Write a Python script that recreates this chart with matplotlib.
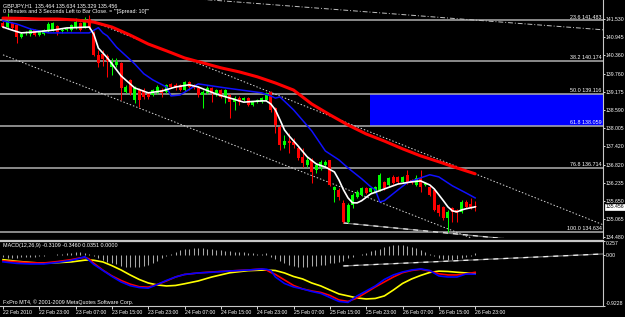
import matplotlib.pyplot as plt
from matplotlib.patches import Rectangle

# GBPJPY H1 candles (bar 0 = 22 Feb 15:00)
opens = [
    141.40, 141.27, 141.40, 141.34, 140.95, 141.08, 141.04, 141.17, 141.01, 141.04,
    141.14, 141.17, 141.30, 141.14, 141.17, 141.17, 141.24, 141.40, 141.27, 141.53,
    141.08, 140.37, 140.40, 140.33, 139.98, 140.04, 140.11, 139.17, 139.56, 138.91,
    139.23, 139.23, 139.14, 139.07, 139.14, 139.23, 139.17, 139.43, 139.40, 139.40,
    139.23, 139.49, 139.40, 139.30, 139.07, 139.14, 139.30, 139.07, 139.23, 139.01,
    139.07, 138.84, 138.97, 138.91, 138.97, 138.75, 138.84, 138.84, 138.91, 139.17,
    138.65, 138.04, 137.45, 137.58, 137.55, 137.36, 137.07, 136.81, 136.97, 136.65,
    136.74, 136.81, 136.97, 136.00, 136.00, 135.58, 134.97, 135.51, 135.77, 135.84,
    136.07, 135.94, 135.94, 136.00, 136.26, 136.16, 136.42, 136.42, 136.26, 136.49,
    136.32, 136.16, 136.39, 136.16, 136.10, 136.00, 135.51, 135.45, 135.10, 135.42,
    135.35, 135.29, 135.61, 135.55, 135.464]
closes = [
    141.27, 141.43, 141.24, 140.95, 141.04, 141.11, 141.17, 141.01, 141.11, 141.17,
    141.37, 141.40, 141.11, 141.17, 141.21, 141.34, 141.43, 141.17, 141.53, 141.24,
    140.37, 140.11, 140.24, 140.17, 140.14, 140.14, 139.30, 139.33, 139.14, 139.30,
    138.91, 139.01, 139.01, 139.23, 139.33, 139.14, 139.40, 139.33, 139.30, 139.23,
    139.49, 139.33, 139.30, 139.07, 139.17, 139.30, 139.14, 139.23, 139.01, 139.23,
    138.84, 138.97, 138.84, 138.97, 138.75, 138.84, 138.91, 138.97, 139.14, 138.59,
    138.10, 137.45, 137.58, 137.52, 137.45, 137.03, 136.87, 136.97, 136.58, 136.81,
    136.91, 136.91, 136.16, 136.10, 135.77, 134.97, 135.51, 135.84, 135.94, 136.07,
    135.90, 136.07, 136.10, 136.49, 136.07, 136.39, 136.23, 136.26, 136.42, 136.23,
    136.23, 136.39, 136.10, 136.23, 135.84, 135.35, 135.26, 135.10, 135.29, 135.29,
    135.26, 135.61, 135.45, 135.45, 135.456]
highs = [
    141.47, 141.73, 141.43, 141.37, 141.11, 141.14, 141.24, 141.21, 141.14, 141.21,
    141.43, 141.43, 141.34, 141.24, 141.27, 141.37, 141.56, 141.43, 141.60, 141.66,
    141.14, 140.53, 140.53, 140.40, 140.27, 140.27, 140.14, 139.40, 139.59, 139.36,
    139.30, 139.30, 139.17, 139.27, 139.40, 139.30, 139.43, 139.46, 139.46, 139.43,
    139.52, 139.52, 139.43, 139.36, 139.23, 139.36, 139.33, 139.27, 139.27, 139.27,
    139.10, 139.04, 139.04, 139.01, 139.01, 138.88, 138.94, 139.01, 139.17, 139.20,
    138.68, 138.10, 137.78, 137.84, 137.68, 137.42, 137.36, 137.07, 137.03, 136.87,
    136.97, 136.97, 136.97, 136.13, 136.07, 135.68, 135.58, 135.90, 136.00, 136.10,
    136.10, 136.10, 136.13, 136.55, 136.29, 136.42, 136.49, 136.45, 136.45, 136.65,
    136.36, 136.49, 136.65, 136.26, 136.13, 136.03, 135.55, 135.48, 135.35, 135.45,
    135.39, 135.68, 135.68, 135.74, 135.634]
lows = [
    141.24, 141.24, 141.17, 140.75, 140.92, 141.01, 140.98, 140.98, 140.98, 141.01,
    141.11, 141.14, 141.01, 141.08, 141.14, 141.14, 141.21, 141.14, 141.24, 141.21,
    140.33, 139.98, 140.01, 139.65, 139.72, 139.98, 138.91, 139.14, 139.07, 138.81,
    138.68, 138.94, 138.94, 139.04, 139.10, 139.01, 139.14, 139.30, 139.23, 139.20,
    139.20, 139.23, 139.27, 139.01, 138.65, 139.10, 138.84, 139.04, 138.97, 138.81,
    138.33, 138.59, 138.75, 138.88, 138.72, 138.72, 138.81, 138.81, 138.88, 138.52,
    137.84, 137.29, 137.36, 137.20, 137.36, 136.97, 136.74, 136.74, 136.23, 136.55,
    136.65, 136.78, 136.13, 135.61, 135.68, 134.93, 134.93, 135.42, 135.74, 135.81,
    135.87, 135.90, 135.90, 135.97, 136.00, 136.13, 136.19, 136.23, 136.23, 136.19,
    136.19, 136.13, 135.94, 136.13, 135.81, 135.32, 135.16, 135.03, 134.634, 134.97,
    134.97, 135.26, 135.42, 135.39, 135.329]

# moving averages (bar index, price)
red_bars = list(range(0, 105, 4))
red_vals = [141.56, 141.55, 141.53, 141.53, 141.50, 141.43, 141.27, 141.01, 140.72,
            140.50, 140.27, 140.11, 139.95, 139.82, 139.66, 139.46, 139.23, 138.78,
            138.43, 138.10, 137.81, 137.58, 137.33, 137.10, 136.91, 136.71, 136.52]

blue_bars = [0, 3, 6, 10, 19, 21, 22, 23, 25, 29, 31, 33, 36, 37, 39, 43, 49, 57, 59, 60,
             61, 64, 68, 71, 74, 76, 79, 81, 82, 83, 84, 87, 89, 92, 94, 96, 99, 102, 104]
blue_vals = [141.47, 141.37, 141.21, 141.08, 141.08, 141.25, 141.08, 140.98, 140.62, 140.08,
             139.76, 139.56, 139.33, 139.04, 139.07, 139.43, 139.30, 139.14, 139.04, 138.97,
             139.01, 138.59, 137.91, 137.26, 136.97, 136.71, 136.36, 136.10, 136.00, 135.61,
             135.65, 136.00, 136.23, 136.39, 136.49, 136.42, 136.13, 135.90, 135.74]

white_bars = [0, 2, 4, 7, 11, 14, 19, 20, 21, 23, 24, 26, 29, 32, 35, 38, 41, 43, 47, 50,
              53, 57, 58, 59, 60, 61, 62, 63, 65, 67, 69, 71, 73, 74, 75, 76, 77, 78, 79, 81,
              84, 87, 90, 92, 94, 95, 96, 97, 98, 99, 100, 101, 102, 104]
white_vals = [141.27, 141.17, 141.08, 141.11, 141.17, 141.24, 141.27, 141.04, 140.59, 140.27,
              140.08, 139.69, 139.30, 139.14, 139.20, 139.33, 139.40, 139.33, 139.10, 138.97,
              138.84, 138.88, 138.88, 138.78, 138.59, 138.27, 137.94, 137.75, 137.42, 137.07,
              136.84, 136.74, 136.58, 136.32, 136.00, 135.74, 135.58, 135.58, 135.65, 135.87,
              136.03, 136.19, 136.26, 136.29, 136.16, 136.03, 135.84, 135.65, 135.45, 135.32,
              135.29, 135.35, 135.39, 135.45]

# fibonacci retracement
fib_levels = [141.483, 140.174, 139.116, 138.059, 136.714, 134.634]
fib_names = ['23.6', '38.2', '50.0', '61.8', '76.8', '100.0']

price_ticks = [141.530, 140.945, 140.360, 139.760, 139.175, 138.590, 138.005,
               137.420, 136.820, 136.235, 135.650, 135.065, 134.480]
last_price = 135.456

date_bars = list(range(0, 105, 8))
date_labels = ['22 Feb 2010', '22 Feb 23:00', '23 Feb 07:00', '23 Feb 15:00', '23 Feb 23:00',
               '24 Feb 07:00', '24 Feb 15:00', '24 Feb 23:00', '25 Feb 07:00', '25 Feb 15:00',
               '25 Feb 23:00', '26 Feb 07:00', '26 Feb 15:00', '26 Feb 23:00']

# MACD window
macd_hist = [-0.04, -0.05, -0.05, -0.05, -0.04, -0.04, -0.03, -0.03, -0.02,
             -0.01, 0.00, 0.01,
             0.02, 0.03, 0.04, 0.04, 0.05, 0.05, 0.04,
             0.02, -0.02,
             -0.06, -0.09, -0.12, -0.14, -0.16, -0.19, -0.21, -0.22, -0.22, -0.21, -0.20,
             -0.18, -0.15, -0.10, -0.05,
             -0.02, 0.02,
             0.06, 0.09, 0.11, 0.12, 0.13, 0.13, 0.13, 0.12, 0.11, 0.10, 0.09, 0.08, 0.07,
             0.06, 0.05, 0.05, 0.04, 0.04, 0.03, 0.03, 0.04,
             -0.03, -0.07, -0.11, -0.15, -0.18, -0.20, -0.21, -0.21, -0.21, -0.20, -0.19,
             -0.18, -0.17, -0.15, -0.14, -0.13, -0.10, -0.06,
             -0.03, 0.00, 0.02,
             0.04, 0.07, 0.09, 0.12, 0.15, 0.17, 0.18, 0.19, 0.19, 0.17, 0.15, 0.13, 0.10, 0.06,
             0.03,
             -0.02, -0.05, -0.07, -0.08, -0.08, -0.07, -0.06, -0.04, -0.02,
             0.035]

osc_bars = [0, 3, 6, 9, 12, 15, 17, 18, 19, 20, 22, 24, 26, 28, 30, 32, 34, 36, 38, 40,
            43, 46, 50, 54, 57, 58, 59, 60] + list(range(62, 105, 2))
osc_blue = [-0.122, -0.149, -0.160, -0.160, -0.132, -0.096, -0.056, -0.027, -0.096, -0.169,
            -0.278, -0.387, -0.486, -0.554, -0.588, -0.599, -0.532, -0.459, -0.396, -0.350,
            -0.323, -0.310, -0.287, -0.270, -0.252, -0.256, -0.279, -0.396,
            -0.514, -0.577, -0.613, -0.659, -0.695, -0.768, -0.840, -0.858, -0.740, -0.650,
            -0.559, -0.441, -0.359, -0.305, -0.269, -0.250, -0.278, -0.377, -0.396, -0.396,
            -0.341, -0.346]
osc_red = [-0.102, -0.120, -0.136, -0.142, -0.116, -0.082, -0.049, -0.042, -0.069, -0.147,
           -0.272, -0.377, -0.459, -0.526, -0.573, -0.581, -0.532, -0.468, -0.396, -0.350,
           -0.323, -0.305, -0.287, -0.269, -0.250, -0.269, -0.314, -0.350,
           -0.450, -0.550, -0.613, -0.650, -0.677, -0.731, -0.813, -0.840, -0.777, -0.677,
           -0.577, -0.486, -0.396, -0.318, -0.278, -0.256, -0.287, -0.338, -0.359, -0.359,
           -0.341, -0.311]
osc_yellow = [-0.082, -0.111, -0.132, -0.147, -0.136, -0.123, -0.102, -0.091, -0.087, -0.093,
              -0.123, -0.191, -0.269, -0.359, -0.441, -0.505, -0.541, -0.559, -0.550, -0.519,
              -0.468, -0.396, -0.319, -0.281, -0.272, -0.269, -0.274, -0.279,
              -0.323, -0.387, -0.432, -0.505, -0.559, -0.632, -0.704, -0.740, -0.777, -0.795,
              -0.786, -0.740, -0.632, -0.514, -0.432, -0.368, -0.314, -0.290, -0.296, -0.310,
              -0.323, -0.341]

# hand drawn trend lines, (bars, values)
chan_top = ([18.9, 132.2], [141.50, 134.87])
chan_low = ([0, 110], [140.37, 134.05])
far_line = ([40, 132.2], [142.21, 141.18])
div_price = ([75, 112], [134.93, 134.40])
div_macd = ([75, 132.2], [-0.196, 0.022])
zone_start = 80.8


plt.rcParams['font.family'] = ['Liberation Sans Narrow', 'Liberation Sans', 'DejaVu Sans']
fs = 3.9      # small MT4 window font
fs_axis = 3.7

W, H = 625, 317
fig = plt.figure(figsize=(W / 100, H / 100), dpi=100, facecolor='black')
ax = fig.add_axes([0, 1 - 238 / H, 603 / W, 238 / H], facecolor='black')
ax2 = fig.add_axes([0, 1 - 306 / H, 603 / W, 65 / H], facecolor='black')

xmin, xmax = -0.66, 132.16
ax.set_xlim(xmin, xmax)
ax2.set_xlim(xmin, xmax)
ax.set_ylim(134.443, 142.145)
ax2.set_ylim(-0.9228, 0.257)

edge = '#c8c8c8'

# main window
ax.add_patch(Rectangle((zone_start, fib_levels[3]), xmax - zone_start,
                       fib_levels[2] - fib_levels[3], color='#0000ff', lw=0, zorder=1))
ytr = ax.get_yaxis_transform()
for lvl, name in zip(fib_levels, fib_names):
    ax.axhline(lvl, color='#b0b0b0', lw=1.1, zorder=2)
    ax.text(0.998, lvl + 0.025, name + ' ' + '%.3f' % lvl, transform=ytr, ha='right',
            va='bottom', color='white', fontsize=fs, zorder=6)

ax.plot(*chan_top, color='#d8d8d8', lw=0.7, ls=(0, (1.5, 2)), zorder=2)
ax.plot(*chan_low, color='#d8d8d8', lw=0.7, ls=(0, (1.5, 2)), zorder=2)
ax.plot(*far_line, color='#c0c0c0', lw=0.7, ls=(0, (5, 2, 1, 2)), zorder=2)
ax.plot(*div_price, color='#707070', lw=0.9, zorder=2)
ax.plot(*div_price, color='#e8e8e8', lw=0.9, ls=(0, (4, 4)), zorder=2)

for i in range(len(opens)):
    o, c = opens[i], closes[i]
    col = '#00ff00' if c >= o else '#ff0000'
    ax.vlines(i, lows[i], highs[i], color=col, lw=0.75, zorder=3)
    ax.bar(i, max(abs(c - o), 0.012), bottom=min(o, c), width=0.66, color=col, lw=0, zorder=3)

ax.plot(red_bars, red_vals, color='#ff0000', lw=2.2, zorder=4, solid_capstyle='round')
ax.plot(blue_bars, blue_vals, color='#1010ff', lw=1.1, zorder=4)
ax.plot(white_bars, white_vals, color='white', lw=1.2, zorder=5)

ax.yaxis.tick_right()
ax.set_yticks(price_ticks)
ax.set_yticklabels(['%.3f' % p for p in price_ticks])
ax.tick_params(axis='y', colors='white', labelsize=fs_axis, length=1.5, width=0.6, pad=0.6)
ax.set_xticks([])
for s in ['top', 'left', 'bottom']:
    ax.spines[s].set_visible(False)
ax.spines['right'].set_color(edge)

ax.text(1.004, last_price, '%.3f' % last_price, transform=ytr, ha='left', va='center',
        color='black', fontsize=fs_axis, zorder=7, clip_on=False,
        bbox=dict(boxstyle='square,pad=0.1', fc='white', ec='white', lw=0.5))

# MACD window
ax2.vlines(range(len(macd_hist)), 0, macd_hist, color='#a8a8a8', lw=0.75)
ax2.plot(div_macd[0], div_macd[1], color='#707070', lw=0.9)
ax2.plot(div_macd[0], div_macd[1], color='#f0f0f0', lw=0.9, ls=(0, (4, 4)))
ax2.plot(osc_bars, osc_yellow, color='#ffff00', lw=1.2)
ax2.plot(osc_bars, osc_red, color='#ff0000', lw=1.2)
ax2.plot(osc_bars, osc_blue, color='#0000ff', lw=1.2)

ax2.yaxis.tick_right()
ax2.set_yticks([-0.9228, 0.0, 0.257])
ax2.set_yticklabels(['-0.9228', '0.00', '0.257'])
ax2.tick_params(axis='y', colors='white', labelsize=fs_axis, length=1.5, width=0.6, pad=0.6)
lab = ax2.get_yticklabels()
lab[0].set_va('bottom')
lab[2].set_va('top')

ax2.set_xticks(date_bars)
ax2.set_xticklabels(date_labels, ha='left')
ax2.tick_params(axis='x', colors='white', labelsize=fs_axis, length=2, width=0.6, pad=1)
ax2.spines['left'].set_visible(False)
for s in ['top', 'right', 'bottom']:
    ax2.spines[s].set_color(edge)
ax2.spines['top'].set_linewidth(1.6)

# window texts
fig.text(3 / W, 1 - 5.7 / H, 'GBPJPY,H1  135.464 135.634 135.329 135.456',
         color='white', fontsize=fs, va='center')
fig.text(3 / W, 1 - 11.7 / H,
         '0 Minutes and 3 Seconds Left to Bar Close. = "\'[Spread: 10]\'"',
         color='white', fontsize=fs, va='center')
fig.text(3 / W, 1 - 245 / H, 'MACD(12,26,9) -0.3109 -0.3460 0.0351 0.0000',
         color='white', fontsize=fs, va='center')
fig.text(3 / W, 1 - 302 / H, 'FxPro MT4, \u00a9 2001-2009 MetaQuotes Software Corp.',
         color='white', fontsize=fs, va='center')

fig.savefig('out.png', dpi=100, facecolor='black')
